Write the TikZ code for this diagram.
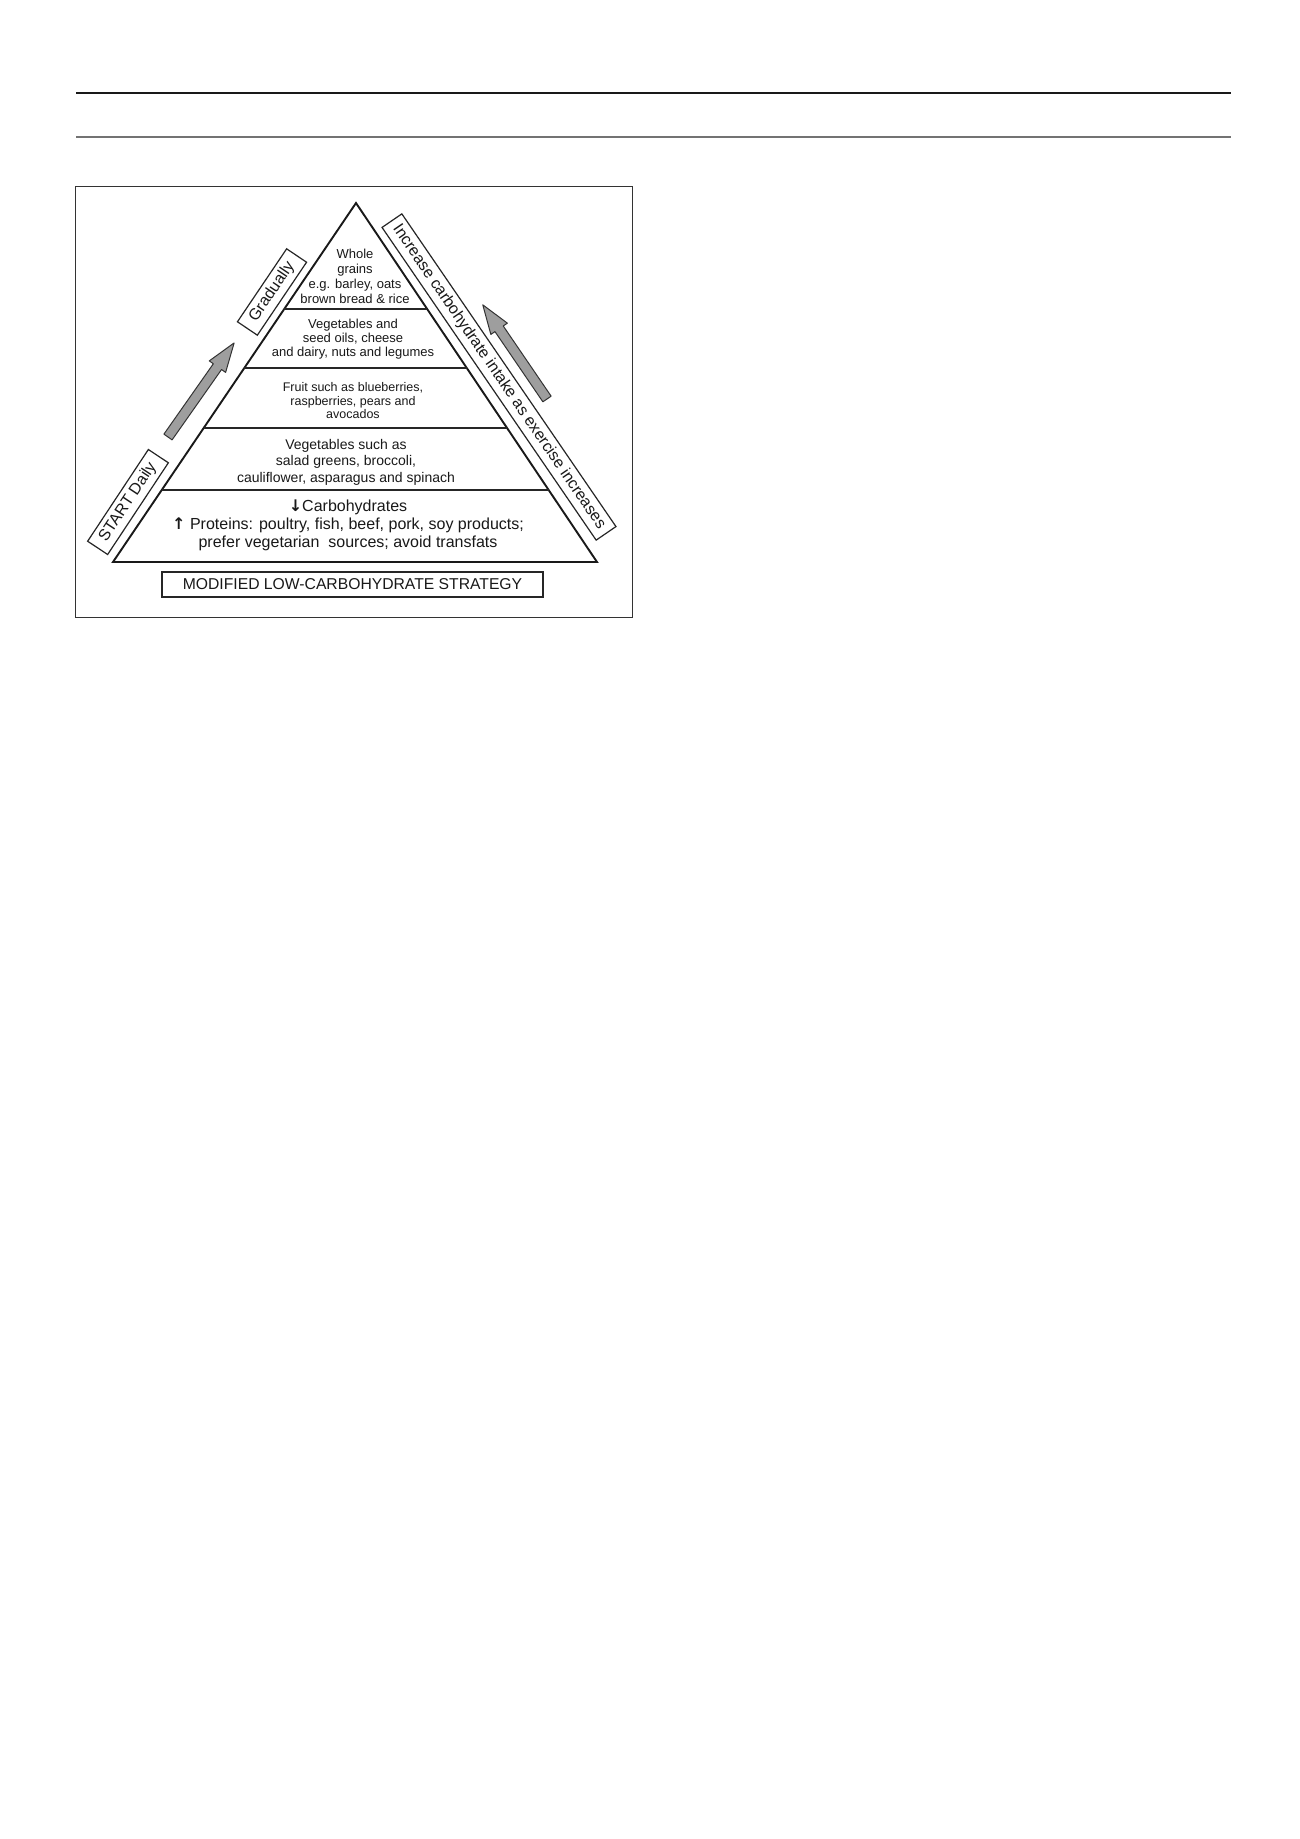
\documentclass[tikz,border=0pt]{standalone}
\usepackage{fontspec}
\setmainfont{Liberation Sans}
\newfontfamily\arrowfont{DejaVu Sans}
\usetikzlibrary{calc}
\newcommand\myfs[2]{\fontsize{#1}{#2}\selectfont}
\newcommand\dnarrow{{\arrowfont\bfseries ↓}}
\newcommand\uparrowsym{{\arrowfont\bfseries ↑}}
\tikzset{
  layertext/.style={align=center, inner sep=0pt, text=black!90},
  sidebox/.style={draw=black!85, line width=1.2pt, inner sep=0pt, text=black!90,
    minimum height=24pt, font=\myfs{16}{18}},
  garrow/.style={draw=black!80, line width=1pt, fill=black!38, line join=round},
}
\begin{document}
\begin{tikzpicture}[x=1pt,y=-1pt]
\useasboundingbox[fill=white] (0,0) rectangle (1300,1839);
% page rules
\coordinate (r1a) at (76,93);  \coordinate (r1b) at (1231,93);
\coordinate (r2a) at (76,137); \coordinate (r2b) at (1231,137);
\draw[black!90, line width=1.3pt] (r1a) -- (r1b);
\draw[black!55, line width=2pt] (r2a) -- (r2b);
% figure frame
\node[draw=black!80, line width=1pt, minimum width=557pt, minimum height=431pt, inner sep=0pt] (frame) at (353.5,401.5) {};
% pyramid
\coordinate (apex) at (356,203);
\coordinate (bl) at (113,562);
\coordinate (br) at (597,562);
\draw[black!90, line width=1.9pt, line join=miter] (apex) -- (bl) -- (br) -- cycle;
\foreach \t in {0.2953,0.4596,0.6267,0.7994}{
  \draw[black!85, line width=1.4pt] ($(apex)!\t!(bl)$) -- ($(apex)!\t!(br)$);
}
% layer texts
\node[layertext, font=\myfs{13}{15}] (whole) at (355,276)
  {Whole\\grains\\e.g. barley, oats\\brown bread \& rice};
\node[layertext, font=\myfs{13}{14}] (oils) at (353,339)
  {Vegetables and\\seed oils, cheese\\and dairy, nuts and legumes};
\node[layertext, font=\myfs{12.5}{13.5}] (fruit) at (353,401)
  {Fruit such as blueberries,\\raspberries, pears and\\avocados};
\node[layertext, font=\myfs{14}{16.5}] (veg) at (346,462)
  {Vegetables such as\\salad greens, broccoli,\\cauliflower, asparagus and spinach};
\node[layertext, font=\myfs{16}{18}] (prot) at (348,525)
  {\dnarrow Carbohydrates\\\uparrowsym\ Proteins: poultry, fish, beef, pork, soy products;\\prefer vegetarian\ \ sources; avoid transfats};
% title box
\node[draw=black!85, line width=1.2pt, minimum width=381pt, minimum height=25pt, inner sep=0pt,
  text=black!90, font=\myfs{15.7}{18}] (title) at (352.5,584.5) {MODIFIED LOW-CARBOHYDRATE STRATEGY};
% side boxes
\node[sidebox, minimum width=110pt, rotate=56.5] (start) at (128,502) {START Daily};
\node[sidebox, minimum width=88pt, rotate=56] (grad) at (272,292) {Gradually};
\node[sidebox, minimum width=379pt, rotate=-55.6] (incr) at (499,377)
  {Increase carbohydrate intake as exercise increases};
% grey block arrows
\begin{scope}[shift={(168,437)}, rotate=54.9]
  \draw[garrow] (0,-5) -- (86,-5) -- (86,-10) -- (115,0) -- (86,10) -- (86,5) -- (0,5) -- cycle;
\end{scope}
\begin{scope}[shift={(547,399)}, rotate=124.3]
  \draw[garrow] (0,-5) -- (85,-5) -- (85,-10) -- (114,0) -- (85,10) -- (85,5) -- (0,5) -- cycle;
\end{scope}
\end{tikzpicture}
\end{document}
